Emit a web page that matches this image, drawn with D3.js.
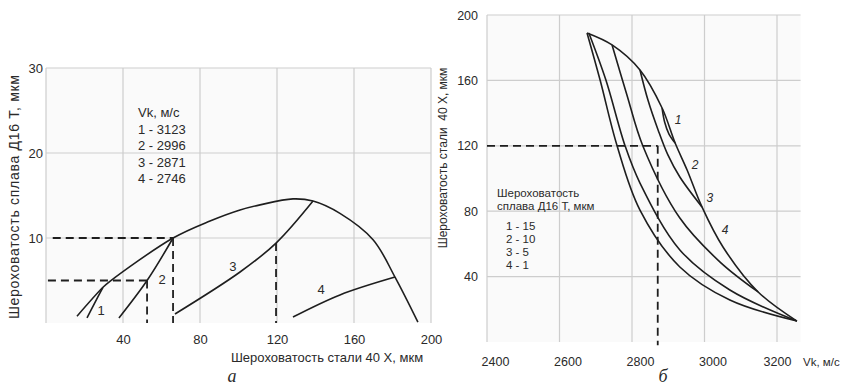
<!DOCTYPE html>
<html>
<head>
<meta charset="utf-8">
<script src="https://cdn.jsdelivr.net/npm/d3@7"></script>
<style>
  body { margin: 0; background: #fff; }
  text { font-family: "Liberation Sans", Arial, sans-serif; fill: #2a2a2a; }
  .caption { font-family: "Liberation Serif", "Times New Roman", serif; font-style: italic; }
</style>
</head>
<body>
<svg id="chart" width="848" height="387"></svg>
<script>
// ---------- Panel "а": alloy D16T roughness vs steel 40X roughness ----------
const steelTicksA = [40, 80, 120, 160, 200];
const alloyTicksA = [10, 20, 30];
const legendA = ["Vk, м/с", "1 - 3123", "2 - 2996", "3 - 2871", "4 - 2746"];

// limiting envelope
const envA_steel = [16.1, 29.6, 33.2, 66, 85.2, 100.8, 111.2, 128.3, 138.7, 152.7, 169.9, 181.3, 193.2];
const envA_alloy = [0.8, 4.2, 4.9, 10, 12.0, 13.3, 13.9, 14.6, 14.35, 12.9, 9.8, 5.4, 0.1];
// curves for each Vk
const curveA1_steel = [21.3, 25.2, 29.6];
const curveA1_alloy = [0.6, 2.3, 4.2];
const curveA2_steel = [37.9, 52.5, 66];
const curveA2_alloy = [0.6, 5, 10];
const curveA3_steel = [67, 100.8, 119.5, 138.7];
const curveA3_alloy = [1.06, 6.0, 9.4, 14.35];
const curveA4_steel = [128.3, 152.7, 181.3];
const curveA4_alloy = [0.7, 3.3, 5.4];
const curveLabelsA = ["1", "2", "3", "4"];
const curveLabelA_steel = [28.6, 60.3, 97.1, 142.9];
const curveLabelA_alloy = [1.5, 5.1, 6.6, 3.9];
// reading guides: [x0, y0, x1, y1]
const guidesA = [[3.5, 10, 66, 10], [66, 10, 66, 0], [1, 5, 52.5, 5], [52.5, 5, 52.5, 0], [119.5, 9.4, 119.5, 0]];

// ---------- Panel "б": steel 40X roughness vs Vk ----------
const vkTicksB = [2400, 2600, 2800, 3000, 3200];
const steelTicksB = [40, 80, 120, 160, 200];
const legendB_title = ["Шероховатость", "сплава Д16 Т, мкм"];
const legendB_items = ["1 - 15", "2 - 10", "3 - 5", "4 - 1"];

const envB_vk = [2676, 2745, 2822, 2883, 2919, 2952, 2993, 3051, 3148, 3255];
const envB_steel = [189, 181.7, 166.4, 143.1, 121.7, 105.2, 82.6, 58.1, 30.6, 12.8];
const lensB_vk = [2883, 2890, 2902, 2919];
const lensB_steel = [143.1, 134.6, 127.2, 121.7];
const lineB1_vk = [2676, 2712, 2759, 2822, 2932, 3070, 3255];
const lineB1_steel = [189, 160.2, 119.9, 80.7, 45.9, 25.7, 12.8];
const lineB2_vk = [2681, 2728, 2781, 2822, 2932, 3070, 3255];
const lineB2_steel = [189, 160.2, 119.9, 97.2, 56.3, 31.8, 12.8];
const lineB3_vk = [2745, 2786, 2830, 2932, 3043, 3148];
const lineB3_steel = [181.7, 151.1, 119.9, 75.8, 48.9, 30.6];
const lineB4_vk = [2822, 2844, 2872, 2899, 2932, 2993];
const lineB4_steel = [166.4, 148, 129.7, 114.4, 100.9, 82.6];
const curveLabelsB = ["1", "2", "3", "4"];
const curveLabelB_vk = [2927, 2974, 3015, 3057];
const curveLabelB_steel = [135.8, 108.3, 88.1, 68.5];
const guidesB = [[2400, 120, 2871, 120], [2871, 120, 2871, -2]];

// ---------- drawing ----------
const svg = d3.select("#chart");

function drawCurve(g, x, y, xs, ys) {
  const line = d3.line().curve(d3.curveCatmullRom.alpha(0.5)).x(d => x(d[0])).y(d => y(d[1]));
  g.append("path").attr("d", line(d3.zip(xs, ys)))
    .attr("fill", "none").attr("stroke", "#1e1e1e").attr("stroke-width", 1.6);
}
function drawGuides(g, x, y, guides) {
  g.selectAll(null).data(guides).join("line")
    .attr("x1", d => x(d[0])).attr("y1", d => y(d[1]))
    .attr("x2", d => x(d[2])).attr("y2", d => y(d[3]))
    .attr("stroke", "#1e1e1e").attr("stroke-width", 1.8).attr("stroke-dasharray", "8,5");
}
function drawGrid(g, x, y, xv, yv) {
  const [x0, x1] = x.range(), [y0, y1] = y.range();
  g.append("rect").attr("x", x0).attr("y", y1).attr("width", x1 - x0).attr("height", y0 - y1)
    .attr("fill", "#fafafa");
  g.selectAll(null).data(xv).join("line")
    .attr("x1", d => x(d)).attr("x2", d => x(d)).attr("y1", y0).attr("y2", y1)
    .attr("stroke", "#cdcdcd").attr("stroke-width", 1.2);
  g.selectAll(null).data(yv).join("line")
    .attr("y1", d => y(d)).attr("y2", d => y(d)).attr("x1", x0).attr("x2", x1)
    .attr("stroke", "#cdcdcd").attr("stroke-width", 1.2);
}

// panel а
{
  const x = d3.scaleLinear().domain([0, 200]).range([46, 431]);
  const y = d3.scaleLinear().domain([0, 30]).range([323, 68]);
  const g = svg.append("g");
  drawGrid(g, x, y, [0, ...steelTicksA], alloyTicksA);

  const ax = g.append("g").attr("transform", `translate(0,${y(0)})`)
    .call(d3.axisBottom(x).tickValues(steelTicksA).tickFormat(d3.format("d")).tickSize(0).tickPadding(12));
  const ay = g.append("g").attr("transform", `translate(${x(0)},0)`)
    .call(d3.axisLeft(y).tickValues(alloyTicksA).tickFormat(d3.format("d")).tickSize(0).tickPadding(3));
  [ax, ay].forEach(a => { a.select(".domain").remove(); a.selectAll("text").attr("font-size", 13).attr("font-family", null).attr("fill", "#2a2a2a"); });

  drawGuides(g, x, y, guidesA);
  drawCurve(g, x, y, envA_steel, envA_alloy);
  drawCurve(g, x, y, curveA1_steel, curveA1_alloy);
  drawCurve(g, x, y, curveA2_steel, curveA2_alloy);
  drawCurve(g, x, y, curveA3_steel, curveA3_alloy);
  drawCurve(g, x, y, curveA4_steel, curveA4_alloy);

  g.selectAll(null).data(curveLabelsA).join("text")
    .attr("x", (d, i) => x(curveLabelA_steel[i])).attr("y", (d, i) => y(curveLabelA_alloy[i]))
    .attr("dy", "0.35em").attr("text-anchor", "middle").attr("font-size", 13).text(d => d);

  g.selectAll(null).data(legendA).join("text")
    .attr("x", 138).attr("y", (d, i) => 117 + i * 16.6)
    .attr("font-size", 13).text(d => d);

  g.append("text").attr("x", 327).attr("y", 362).attr("text-anchor", "middle")
    .attr("font-size", 13).text("Шероховатость стали 40 Х, мкм");
  g.append("text").attr("transform", "translate(19,197) rotate(-90)").attr("text-anchor", "middle")
    .attr("font-size", 14).attr("textLength", 244).attr("lengthAdjust", "spacing")
    .text("Шероховатость сплава Д16 Т, мкм");
  g.append("text").attr("class", "caption").attr("x", 232).attr("y", 382)
    .attr("text-anchor", "middle").attr("font-size", 18).text("а");
}

// panel б
{
  const x = d3.scaleLinear().domain([2400, 3200]).range([487, 777]);
  const y = d3.scaleLinear().domain([0, 200]).range([342, 15]);
  const g = svg.append("g");
  const gridX = d3.scaleLinear().domain([2400, 3265]).range([487, x(3265)]);
  drawGrid(g, gridX, y, vkTicksB, steelTicksB);

  const ax = g.append("g").attr("transform", `translate(0,${y(0)})`)
    .call(d3.axisBottom(x).tickValues(vkTicksB).tickFormat(d3.format("d")).tickSize(0).tickPadding(15));
  ax.selectAll("text").attr("dx", (d, i) => i < vkTicksB.length - 1 ? 8 : 0);
  const ay = g.append("g").attr("transform", `translate(${x(2400)},0)`)
    .call(d3.axisLeft(y).tickValues(steelTicksB).tickFormat(d3.format("d")).tickSize(0).tickPadding(9));
  [ax, ay].forEach(a => { a.select(".domain").remove(); a.selectAll("text").attr("font-size", 12.5).attr("font-family", null).attr("fill", "#2a2a2a"); });

  drawGuides(g, x, y, guidesB);
  drawCurve(g, x, y, envB_vk, envB_steel);
  drawCurve(g, x, y, lensB_vk, lensB_steel);
  drawCurve(g, x, y, lineB1_vk, lineB1_steel);
  drawCurve(g, x, y, lineB2_vk, lineB2_steel);
  drawCurve(g, x, y, lineB3_vk, lineB3_steel);
  drawCurve(g, x, y, lineB4_vk, lineB4_steel);

  g.selectAll(null).data(curveLabelsB).join("text")
    .attr("x", (d, i) => x(curveLabelB_vk[i])).attr("y", (d, i) => y(curveLabelB_steel[i]))
    .attr("dy", "0.35em").attr("text-anchor", "middle").attr("font-size", 12)
    .attr("font-style", "italic").text(d => d);

  g.selectAll(null).data(legendB_title).join("text")
    .attr("x", 497).attr("y", (d, i) => 197 + i * 12.5).attr("font-size", 11.5).text(d => d);
  g.selectAll(null).data(legendB_items).join("text")
    .attr("x", 506).attr("y", (d, i) => 230 + i * 13).attr("font-size", 11.5).text(d => d);

  g.append("text").attr("x", 803).attr("y", 366).attr("font-size", 11.5).text("Vk, м/с");
  g.append("text").attr("transform", "translate(447,158) rotate(-90)").attr("text-anchor", "middle")
    .attr("font-size", 12).attr("xml:space", "preserve").text("Шероховатость стали  40 Х, мкм");
  g.append("text").attr("class", "caption").attr("x", 663).attr("y", 382)
    .attr("text-anchor", "middle").attr("font-size", 18).text("б");
}
</script>
</body>
</html>
